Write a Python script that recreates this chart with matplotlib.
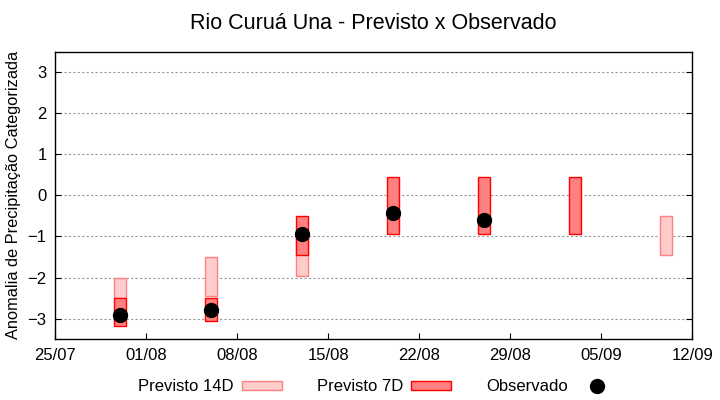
import datetime as dt
import matplotlib
matplotlib.use("Agg")
import matplotlib.pyplot as plt
import matplotlib.dates as mdates
from matplotlib.lines import Line2D
from matplotlib.patches import Patch

plt.rcParams['font.family'] = ['Liberation Sans', 'DejaVu Sans']

# data
dias_14d = ["2023-07-30", "2023-08-06", "2023-08-13", "2023-09-10"]
topo_14d = [-2.0, -1.5, -0.95, -0.5]
base_14d = [-2.5, -2.45, -1.95, -1.45]

dias_7d = ["2023-07-30", "2023-08-06", "2023-08-13", "2023-08-20", "2023-08-27", "2023-09-03"]
topo_7d = [-2.5, -2.5, -0.5, 0.45, 0.45, 0.45]
base_7d = [-3.17, -3.05, -1.45, -0.95, -0.95, -0.95]

dias_obs = ["2023-07-30", "2023-08-06", "2023-08-13", "2023-08-20", "2023-08-27"]
observado = [-2.9, -2.8, -0.93, -0.44, -0.59]

xticks = ["2023-07-25", "2023-08-01", "2023-08-08", "2023-08-15",
          "2023-08-22", "2023-08-29", "2023-09-05", "2023-09-12"]

to_d = lambda l: [dt.datetime.strptime(s, "%Y-%m-%d") for s in l]

fig = plt.figure(figsize=(7.2, 4), dpi=100)
ax = fig.add_axes([0.0764, 0.152, 0.885, 0.719])

c14_face, c14_edge = "#ffcccc", "#ff8080"
c7_face, c7_edge = "#ff8080", "#ff0000"

ax.bar(to_d(dias_14d), [t - b for t, b in zip(topo_14d, base_14d)], bottom=base_14d,
       width=0.95, color=c14_face, edgecolor=c14_edge, linewidth=1.0, zorder=2)
ax.bar(to_d(dias_7d), [t - b for t, b in zip(topo_7d, base_7d)], bottom=base_7d,
       width=0.95, color=c7_face, edgecolor=c7_edge, linewidth=1.0, zorder=3)
ax.plot(to_d(dias_obs), observado, "o", color="black", markersize=10, zorder=4)

ax.set_xlim(to_d(["2023-07-25"])[0], to_d(["2023-09-12"])[0])
ax.set_ylim(-3.5, 3.5)
ax.set_xticks(to_d(xticks))
ax.xaxis.set_major_formatter(mdates.DateFormatter("%d/%m"))
ax.set_yticks(range(-3, 4))
ax.yaxis.grid(True, linestyle=(0, (2, 2)), color="#999999", linewidth=0.8, zorder=0)
ax.set_axisbelow(True)
ax.tick_params(direction="in", length=4, labelsize=12, right=True, top=False, pad=6)
for s in ax.spines.values():
    s.set_linewidth(1.0)

ax.set_ylabel("Anomalia de Precipitação Categorizada", fontsize=11.8, labelpad=5)
ax.set_title("Rio Curuá Una - Previsto x Observado", fontsize=15.5, pad=16)

handles = [Patch(facecolor=c14_face, edgecolor=c14_edge, linewidth=1.0),
           Patch(facecolor=c7_face, edgecolor=c7_edge, linewidth=1.0),
           Line2D([], [], marker="o", color="black", linestyle="none", markersize=10)]
fig.legend(handles, ["Previsto 14D", "Previsto 7D", "Observado"], loc="center",
           bbox_to_anchor=(0.524, 0.033), ncol=3, frameon=False, markerfirst=False,
           fontsize=12, handlelength=2.4, handleheight=0.4, columnspacing=2.1,
           handletextpad=0.5)

fig.savefig("out.png", dpi=100)
